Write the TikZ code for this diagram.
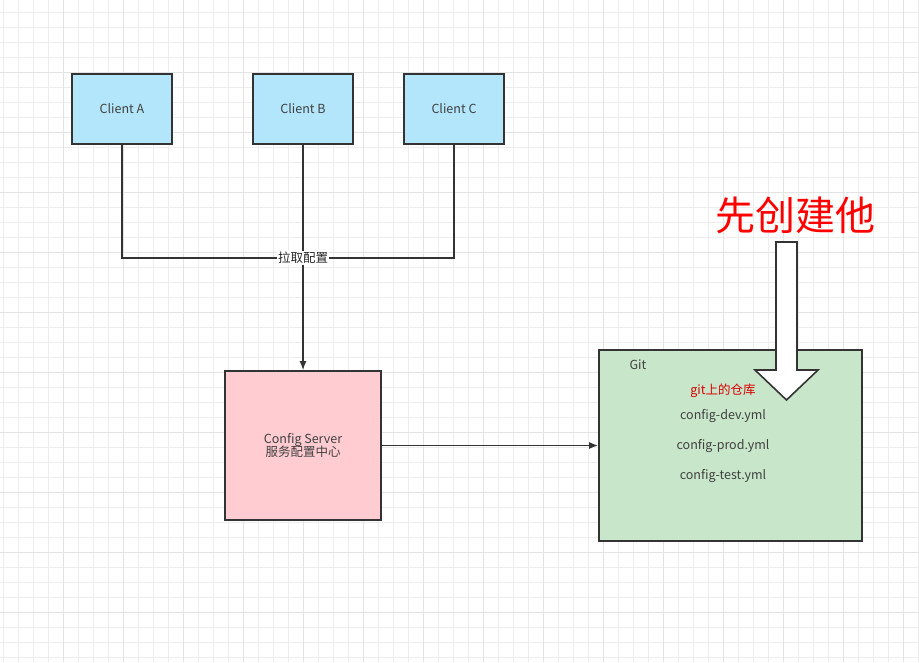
\documentclass[tikz,border=0pt]{standalone}
\usepackage{fontspec}
\setmainfont{Noto Sans CJK SC}
\usetikzlibrary{arrows.meta}
\begin{document}
\begin{tikzpicture}[x=1pt,y=-1pt,
 box/.style={draw=black!80,line width=1.6pt,inner sep=0pt,text=black!75,font=\fontsize{12.5}{15}\selectfont,align=center},
 conn/.style={draw=black!80,line width=1.6pt},
 lbl/.style={text=black!75,font=\fontsize{12.5}{15}\selectfont},
 arr/.style={conn,-{Latex[length=9pt,width=7pt]}}]
\useasboundingbox (0,0) rectangle (919,662);
\fill[white] (0,0) rectangle (919,662);
\foreach \x in {3,18,...,918} \draw[black!7,line width=0.8pt] (\x,0) -- (\x,662);
\foreach \y in {12,27,...,661} \draw[black!7,line width=0.8pt] (0,\y) -- (919,\y);
\foreach \x in {63,123,...,918} \draw[black!11,line width=0.8pt] (\x,0) -- (\x,662);
\foreach \y in {72,132,...,661} \draw[black!11,line width=0.8pt] (0,\y) -- (919,\y);
\node[box,fill=cyan!30!white,minimum width=100pt,minimum height=70pt] (a) at (122,109) {Client A};
\node[box,fill=cyan!30!white,minimum width=100pt,minimum height=70pt] (b) at (303,109) {Client B};
\node[box,fill=cyan!30!white,minimum width=100pt,minimum height=70pt] (c) at (454,109) {Client C};
\coordinate (j) at (303,258);
\node[box,fill={rgb,255:red,255;green,204;blue,210},minimum width=156pt,minimum height=149pt] (s) at (303,445.5) {Config Server\\[-2pt]服务配置中心};
\node[box,fill={rgb,255:red,200;green,230;blue,201},minimum width=263pt,minimum height=191pt] (g) at (730.5,445.5) {};
\draw[conn] (a.south) |- (c.south |- j) -- (c.south);
\draw[conn] (b.south) -- (j);
\draw[arr] (j) -- (s.north);
\node[fill=white,inner sep=1pt,font=\fontsize{12.5}{15}\selectfont,text=black!85] (l) at (j) {拉取配置};
\draw[arr] (s.east) -- (g.west);
\node[lbl] (gt) at (638,365) {Git};
\node[lbl,text=red!85!black] (r) at (723,391) {git上的仓库};
\node[lbl] (f1) at (723,416) {config-dev.yml};
\node[lbl] (f2) at (723,446) {config-prod.yml};
\node[lbl] (f3) at (723,476) {config-test.yml};
\draw[fill=white,draw=black!80,line width=1.6pt] (776,242) -- (797,242) -- (797,370) -- (818,370) -- (786.5,400) -- (755,370) -- (776,370) -- cycle;
\node[text=red,font=\fontsize{40}{42}\selectfont] (t) at (795,215) {先创建他};
\end{tikzpicture}
\end{document}
